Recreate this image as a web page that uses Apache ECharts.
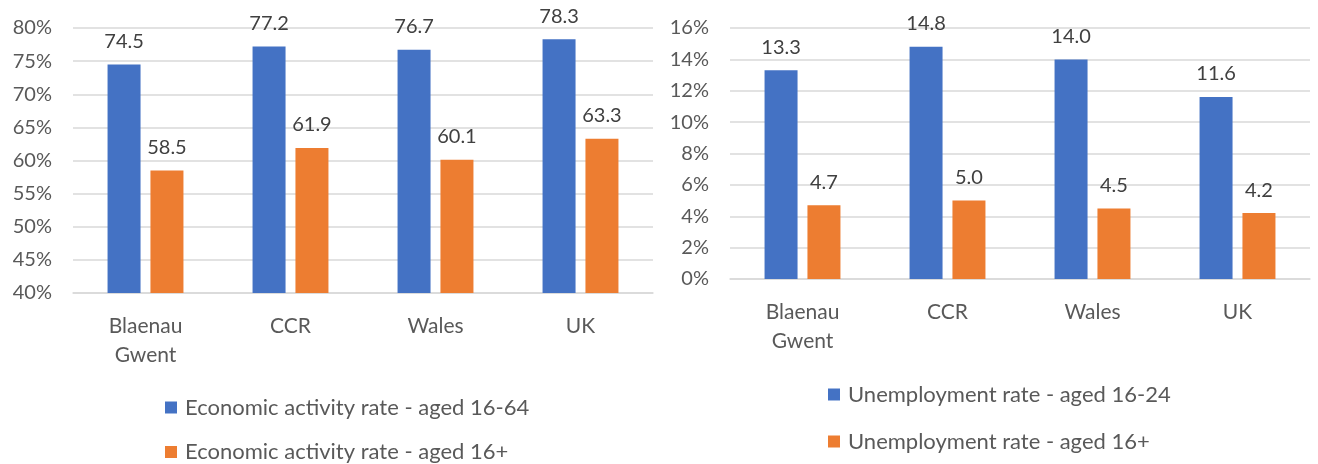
<!DOCTYPE html>
<html>
<head>
<meta charset="utf-8">
<script src="https://cdn.jsdelivr.net/npm/echarts@6/dist/echarts.min.js"></script>
<style>
  html, body { margin: 0; padding: 0; background: #fff; }
  #main { width: 1318px; height: 464px; }
</style>
</head>
<body>
<div id="main"></div>
<script>
// categories shared by both charts
var areas = ['Blaenau Gwent', 'CCR', 'Wales', 'UK'];

// left chart - economic activity
var activity1664 = [74.5, 77.2, 76.7, 78.3];
var activity16plus = [58.5, 61.9, 60.1, 63.3];

// right chart - unemployment
var unemp1624 = [13.3, 14.8, 14.0, 11.6];
var unemp16plus = [4.7, 5.0, 4.5, 4.2];

var FONT = 'Lato';
var BLUE = '#4472C4';
var ORANGE = '#ED7D31';

var myChart = echarts.init(document.getElementById('main'));

function catAxis(gridIndex) {
  return {
    type: 'category',
    gridIndex: gridIndex,
    data: areas,
    axisLine: { lineStyle: { color: '#d9d9d9', width: 1.5 } },
    axisTick: { show: false },
    axisLabel: {
      color: '#595959',
      fontFamily: FONT,
      fontSize: 21,
      lineHeight: 29,
      margin: 19,
      interval: 0,
      formatter: function (v) { return v.replace(' ', '\n'); }
    }
  };
}

function valAxis(gridIndex, min, max, step) {
  return {
    type: 'value',
    gridIndex: gridIndex,
    min: min,
    max: max,
    interval: step,
    axisLine: { show: false },
    axisTick: { show: false },
    splitLine: { lineStyle: { color: '#d9d9d9', width: 1.5 } },
    axisLabel: {
      color: '#595959',
      fontFamily: FONT,
      fontSize: 20,
      margin: 21,
      formatter: '{value}%'
    }
  };
}

function barSeries(name, data, color, idx) {
  return {
    name: name,
    type: 'bar',
    xAxisIndex: idx,
    yAxisIndex: idx,
    data: data,
    barWidth: 33,
    barGap: '30%',
    itemStyle: { color: color },
    label: {
      show: true,
      position: 'top',
      distance: 13,
      color: '#404040',
      fontFamily: FONT,
      fontSize: 20,
      formatter: function (p) { return p.value.toFixed(1); }
    }
  };
}

var legendText = { color: '#595959', fontFamily: FONT, fontSize: 22, lineHeight: 24, padding: [0, 0, 0, 3] };

myChart.setOption({
  animation: false,
  grid: [
    { left: 73, top: 28, width: 580, height: 265 },
    { left: 730, top: 28, width: 580, height: 251 }
  ],
  legend: [
    {
      orient: 'vertical', left: 165, top: 395.5, height: 80, padding: 0,
      itemWidth: 12, itemHeight: 12, itemGap: 20.5,
      icon: 'rect', textStyle: legendText,
      data: ['Economic activity rate - aged 16-64', 'Economic activity rate - aged 16+']
    },
    {
      orient: 'vertical', left: 828, top: 382.5, height: 80, padding: 0,
      itemWidth: 12, itemHeight: 12, itemGap: 23,
      icon: 'rect', textStyle: legendText,
      data: ['Unemployment rate - aged 16-24', 'Unemployment rate - aged 16+']
    }
  ],
  xAxis: [catAxis(0), catAxis(1)],
  yAxis: [valAxis(0, 40, 80, 5), valAxis(1, 0, 16, 2)],
  series: [
    barSeries('Economic activity rate - aged 16-64', activity1664, BLUE, 0),
    barSeries('Economic activity rate - aged 16+', activity16plus, ORANGE, 0),
    barSeries('Unemployment rate - aged 16-24', unemp1624, BLUE, 1),
    barSeries('Unemployment rate - aged 16+', unemp16plus, ORANGE, 1)
  ]
});
</script>
</body>
</html>
